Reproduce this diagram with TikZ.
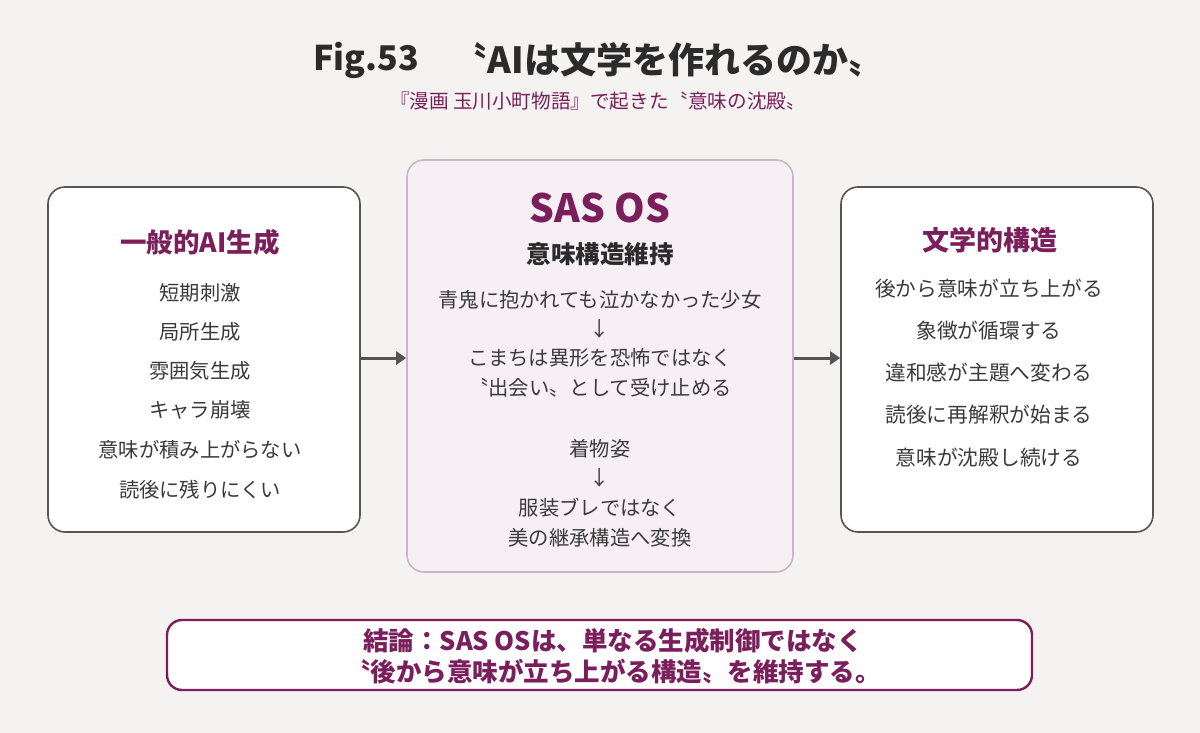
\documentclass[tikz,border=0pt]{standalone}
\usepackage{fontspec}
\setmainfont{Noto Sans CJK JP}
\usetikzlibrary{arrows.meta}
\definecolor{bgc}{HTML}{F4F3F1}
\definecolor{plum}{HTML}{7A1F5C}
\definecolor{ink}{HTML}{2B2B2B}
\definecolor{txt}{HTML}{3A3A3A}
\definecolor{edge}{HTML}{555555}
\definecolor{midfill}{HTML}{F6F0F4}
\definecolor{midedge}{HTML}{C8B8C3}
\tikzset{
  sidebox/.style={draw=edge, line width=1.6pt, fill=white, rounded corners=17pt},
  midbox/.style={draw=midedge, line width=1.6pt, fill=midfill, rounded corners=17pt},
  endbox/.style={draw=plum, line width=2.4pt, fill=white, rounded corners=15pt},
  boxtitle/.style={font=\bfseries\fontsize{27}{31}\selectfont, text=plum},
  item/.style={font=\fontsize{20.3}{24}\selectfont, text=txt},
  flow/.style={draw=edge, line width=3pt, -{Triangle[length=10pt,width=13pt]}},
}
\begin{document}
\begin{tikzpicture}[x=1pt,y=-1pt]
\fill[bgc] (0,0) rectangle (1200,733);
\useasboundingbox (0,0) rectangle (1200,733);

% title
\node[font=\bfseries\fontsize{34}{40}\selectfont, text=ink] (fig) at (366,60) {Fig.53};
\node[font=\bfseries\fontsize{36}{42}\selectfont, text=ink] (ttl) at (668,60) {〝AIは文学を作れるのか〟};
\node[font=\fontsize{19.6}{23}\selectfont, text=plum] (sub) at (598,101) {『漫画 玉川小町物語』で起きた〝意味の沈殿〟};

% boxes
\node[sidebox, minimum width=312pt, minimum height=345pt] (L) at (204,359.5) {};
\node[midbox, minimum width=386pt, minimum height=412pt] (M) at (600,366) {};
\node[sidebox, minimum width=312pt, minimum height=345pt] (R) at (997,359.5) {};

% arrows
\draw[flow] (L.east |- 0,358) -- (M.west |- 0,358);
\draw[flow] (M.east |- 0,358) -- (R.west |- 0,358);

% left content
\node[boxtitle, font=\bfseries\fontsize{26.5}{31}\selectfont] (lt) at (200,242) {一般的AI生成};
\node[item] (l1) at (200,293) {短期刺激};
\node[item] (l2) at (200,332) {局所生成};
\node[item] (l3) at (200,371) {雰囲気生成};
\node[item] (l4) at (200,410) {キャラ崩壊};
\node[item] (l5) at (200,450) {意味が積み上がらない};
\node[item] (l6) at (200,490) {読後に残りにくい};

% middle content
\node[font=\bfseries\fontsize{39}{45}\selectfont, text=plum] (mt) at (600,208) {SAS OS};
\node[font=\bfseries\fontsize{24.5}{28}\selectfont, text=ink] (ms) at (600,254) {意味構造維持};
\node[item] (m1) at (600,300) {青鬼に抱かれても泣かなかった少女};
\node[item] (m2) at (600,329) {↓};
\node[item] (m3) at (600,358) {こまちは異形を恐怖ではなく};
\node[item] (m4) at (600,388) {〝出会い〟として受け止める};
\node[item] (m5) at (600,449) {着物姿};
\node[item] (m6) at (600,478) {↓};
\node[item] (m7) at (600,508) {服装ブレではなく};
\node[item] (m8) at (600,538) {美の継承構造へ変換};

% right content
\node[boxtitle] (rt) at (990,240) {文学的構造};
\node[item, font=\fontsize{20.7}{24}\selectfont] (r1) at (989,289) {後から意味が立ち上がる};
\node[item, font=\fontsize{20.7}{24}\selectfont] (r2) at (989,331) {象徴が循環する};
\node[item, font=\fontsize{20.7}{24}\selectfont] (r3) at (989,373) {違和感が主題へ変わる};
\node[item, font=\fontsize{20.7}{24}\selectfont] (r4) at (989,415) {読後に再解釈が始まる};
\node[item, font=\fontsize{20.7}{24}\selectfont] (r5) at (989,458) {意味が沈殿し続ける};

% conclusion
\node[endbox, minimum width=865pt, minimum height=70pt] (C) at (599.5,655) {};
\node[font=\bfseries\fontsize{25.5}{31}\selectfont, text=plum, align=center] (ct) at (613,656) {結論：SAS OSは、単なる生成制御ではなく\\〝後から意味が立ち上がる構造〟を維持する。};
\end{tikzpicture}
\end{document}
